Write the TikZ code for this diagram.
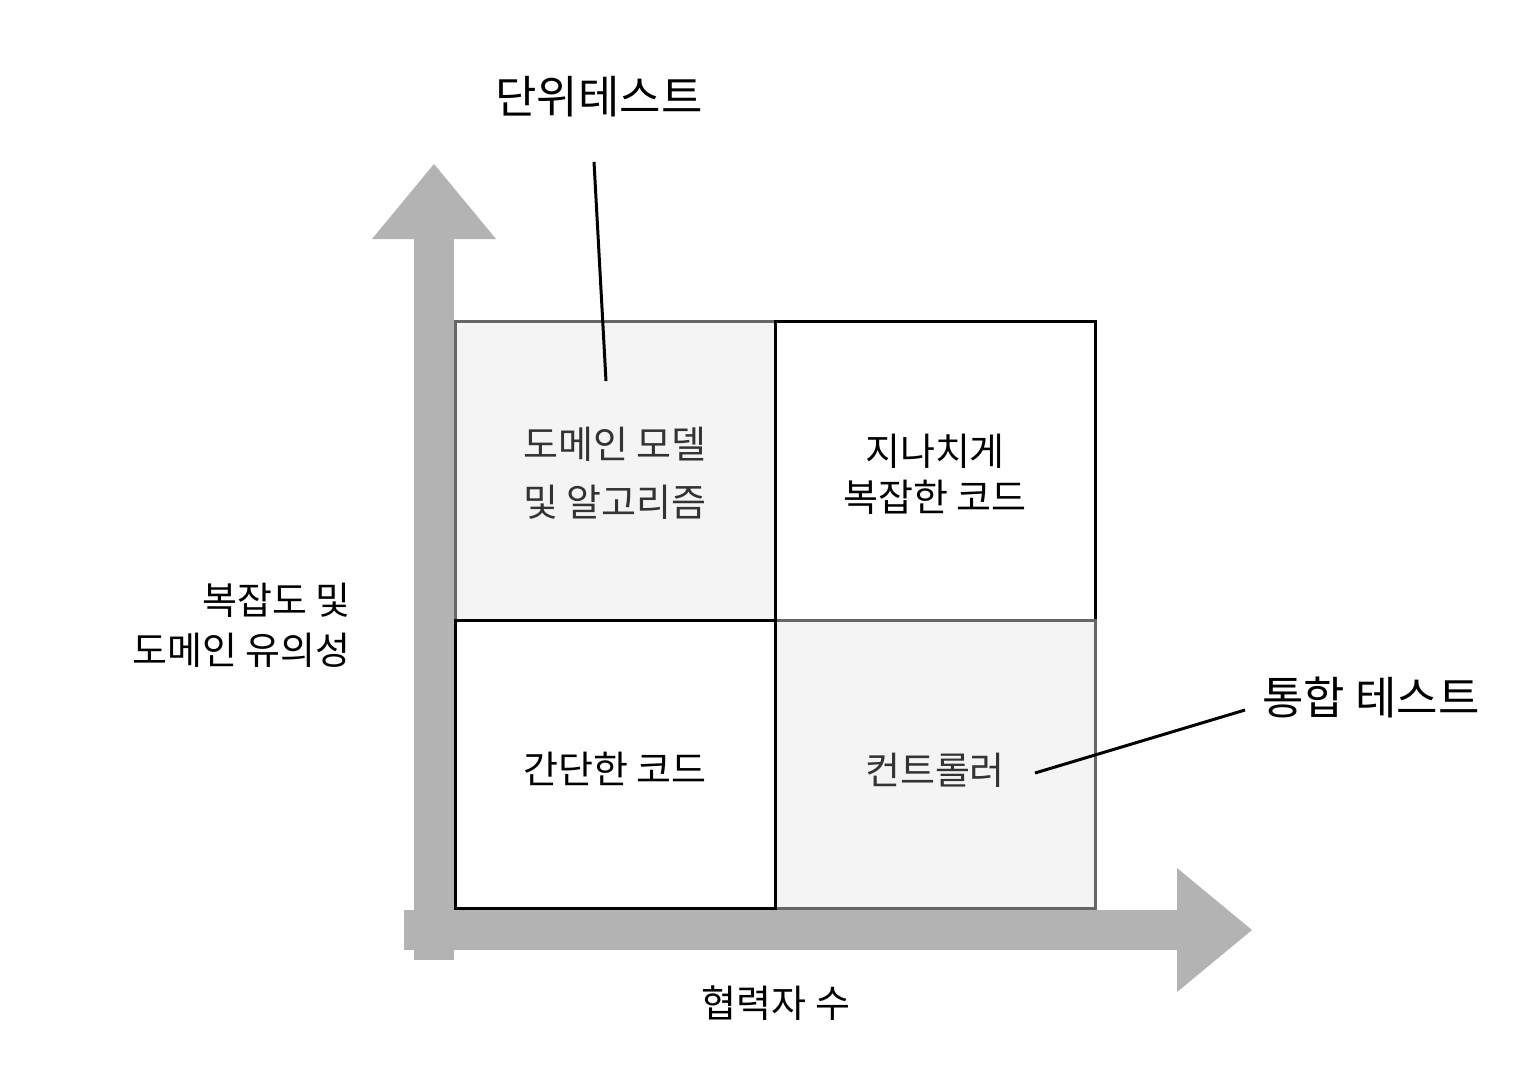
\documentclass[tikz,border=0pt]{standalone}
\usepackage{fontspec}
\setmainfont{Noto Sans CJK KR}
\usetikzlibrary{positioning}

\definecolor{axisgray}{HTML}{B3B3B3}
\definecolor{cellfill}{HTML}{F4F4F4}
\definecolor{cellline}{HTML}{666666}
\definecolor{celltext}{HTML}{333333}

\tikzset{
    cell/.style={draw=black, fill=white, line width=3pt, minimum width=320pt,
        inner sep=0pt, align=center, font=\fontsize{38}{46}\selectfont},
    graycell/.style={cell, draw=cellline, fill=cellfill, text=celltext},
    axislabel/.style={font=\fontsize{38}{50}\selectfont, inner sep=0pt},
    testlabel/.style={font=\fontsize{45}{50}\selectfont, inner sep=0pt},
    pointer/.style={draw=black, line width=3pt}
}

\begin{document}
\begin{tikzpicture}[x=1pt, y=-1pt]
    \useasboundingbox[fill=white] (0,0) rectangle (1536,1080);

    % axes
    \fill[axisgray] (414,239) rectangle (454,960);
    \fill[axisgray] (372,239) -- (434,164) -- (496,239) -- cycle;
    \fill[axisgray] (404,910) rectangle (1177,950);
    \fill[axisgray] (1177,868) -- (1252,930) -- (1177,992) -- cycle;

    % quadrants
    \node[graycell, minimum height=299pt] (domain) at (615,470.5)
        {\rule{0pt}{36pt}도메인 모델\\[12pt]및 알고리즘};
    \node[cell, minimum height=299pt] (overcomplex) at (935,470.5)
        {\rule{0pt}{38pt}지나치게\\복잡한 코드};
    \node[graycell, minimum height=288pt] (controller) at (935,764)
        {\rule{0pt}{44pt}컨트롤러};
    \node[cell, minimum height=288pt] (trivial) at (615,764)
        {\rule{0pt}{42pt}간단한 코드};

    % axis labels
    \node[axislabel, align=right, anchor=east] (complexity) at (351,625)
        {복잡도 및\\도메인 유의성};
    \node[axislabel] (collab) at (776,1003) {협력자 수};

    % test labels
    \node[testlabel] (unit) at (599,97) {단위테스트};
    \node[testlabel] (integration) at (1371,697) {통합 테스트};

    \coordinate (unitstart) at (594,162);
    \coordinate (unitend) at (606,381);
    \coordinate (integstart) at (1245,710);
    \coordinate (integend) at (1035,773);
    \draw[pointer] (unitstart) -- (unitend);
    \draw[pointer] (integstart) -- (integend);
\end{tikzpicture}
\end{document}
